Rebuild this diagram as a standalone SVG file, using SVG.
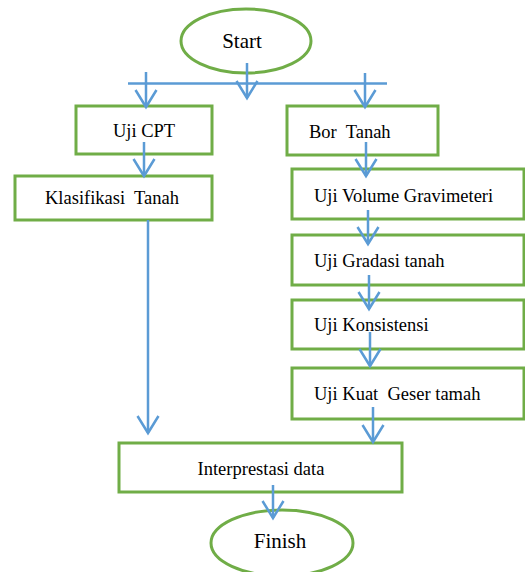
<svg xmlns="http://www.w3.org/2000/svg" width="525" height="572" viewBox="0 0 525 572">
<style>
.box{fill:#fff;stroke:#70AD47;stroke-width:3}
.t{font-family:"Liberation Serif","Times New Roman",serif;font-size:18.5px;fill:#000}
.big{font-size:21px}
.c{stroke:#5B9BD5;stroke-width:2.5;fill:none}
.ca{marker-end:url(#ah)}
</style>
<defs>
<marker id="ah" markerUnits="userSpaceOnUse" markerWidth="40" markerHeight="40" viewBox="-20 -20 40 40" refX="0" refY="0" orient="auto" overflow="visible">
<path d="M-17,-10.5 L0,0 L-17,10.5" fill="none" stroke="#5B9BD5" stroke-width="2.5"/>
</marker>
</defs>
<g id="start"><ellipse class="box" cx="246" cy="41" rx="65" ry="32"/><text class="t big" x="242" y="48" text-anchor="middle">Start</text></g>
<g id="ujicpt"><rect class="box" x="76" y="106" width="136" height="48"/><text class="t" x="144" y="137" text-anchor="middle">Uji CPT</text></g>
<g id="klasifikasi"><rect class="box" x="15" y="176" width="197" height="44"/><text class="t" x="45" y="204" xml:space="preserve">Klasifikasi  Tanah</text></g>
<g id="bortanah"><rect class="box" x="287" y="106" width="151" height="49"/><text class="t" x="309" y="138" xml:space="preserve">Bor  Tanah</text></g>
<g id="volume"><rect class="box" x="292" y="169" width="232" height="50"/><text class="t" x="314" y="202">Uji Volume Gravimeteri</text></g>
<g id="gradasi"><rect class="box" x="292" y="235" width="232" height="50"/><text class="t" x="314" y="267">Uji Gradasi tanah</text></g>
<g id="konsistensi"><rect class="box" x="292" y="300" width="232" height="49"/><text class="t" x="314" y="331">Uji Konsistensi</text></g>
<g id="kuatgeser"><rect class="box" x="292" y="368" width="232" height="51"/><text class="t" x="314" y="400" xml:space="preserve">Uji Kuat  Geser tamah</text></g>
<g id="interpretasi"><rect class="box" x="119" y="443" width="283" height="49"/><text class="t" x="261" y="475" text-anchor="middle">Interprestasi data</text></g>
<g id="finish"><ellipse class="box" cx="282" cy="543" rx="71" ry="33"/><text class="t big" x="280" y="548" text-anchor="middle">Finish</text></g>
<g id="connectors">
<line class="c" x1="128" y1="83.5" x2="387" y2="83.5"/>
<line class="c ca" x1="146" y1="72" x2="146" y2="107"/>
<line class="c ca" x1="247" y1="63" x2="247" y2="98"/>
<line class="c ca" x1="365" y1="73" x2="365" y2="107"/>
<line class="c ca" x1="144" y1="142" x2="144" y2="176"/>
<line class="c ca" x1="366" y1="142" x2="366" y2="176"/>
<line class="c ca" x1="368" y1="210" x2="368" y2="244"/>
<line class="c ca" x1="369" y1="275" x2="369" y2="309"/>
<line class="c ca" x1="370" y1="332" x2="370" y2="366"/>
<line class="c ca" x1="373" y1="407" x2="373" y2="442"/>
<line class="c ca" x1="148" y1="220" x2="148" y2="433"/>
<line class="c ca" x1="273" y1="485" x2="273" y2="518"/>
</g>
</svg>
